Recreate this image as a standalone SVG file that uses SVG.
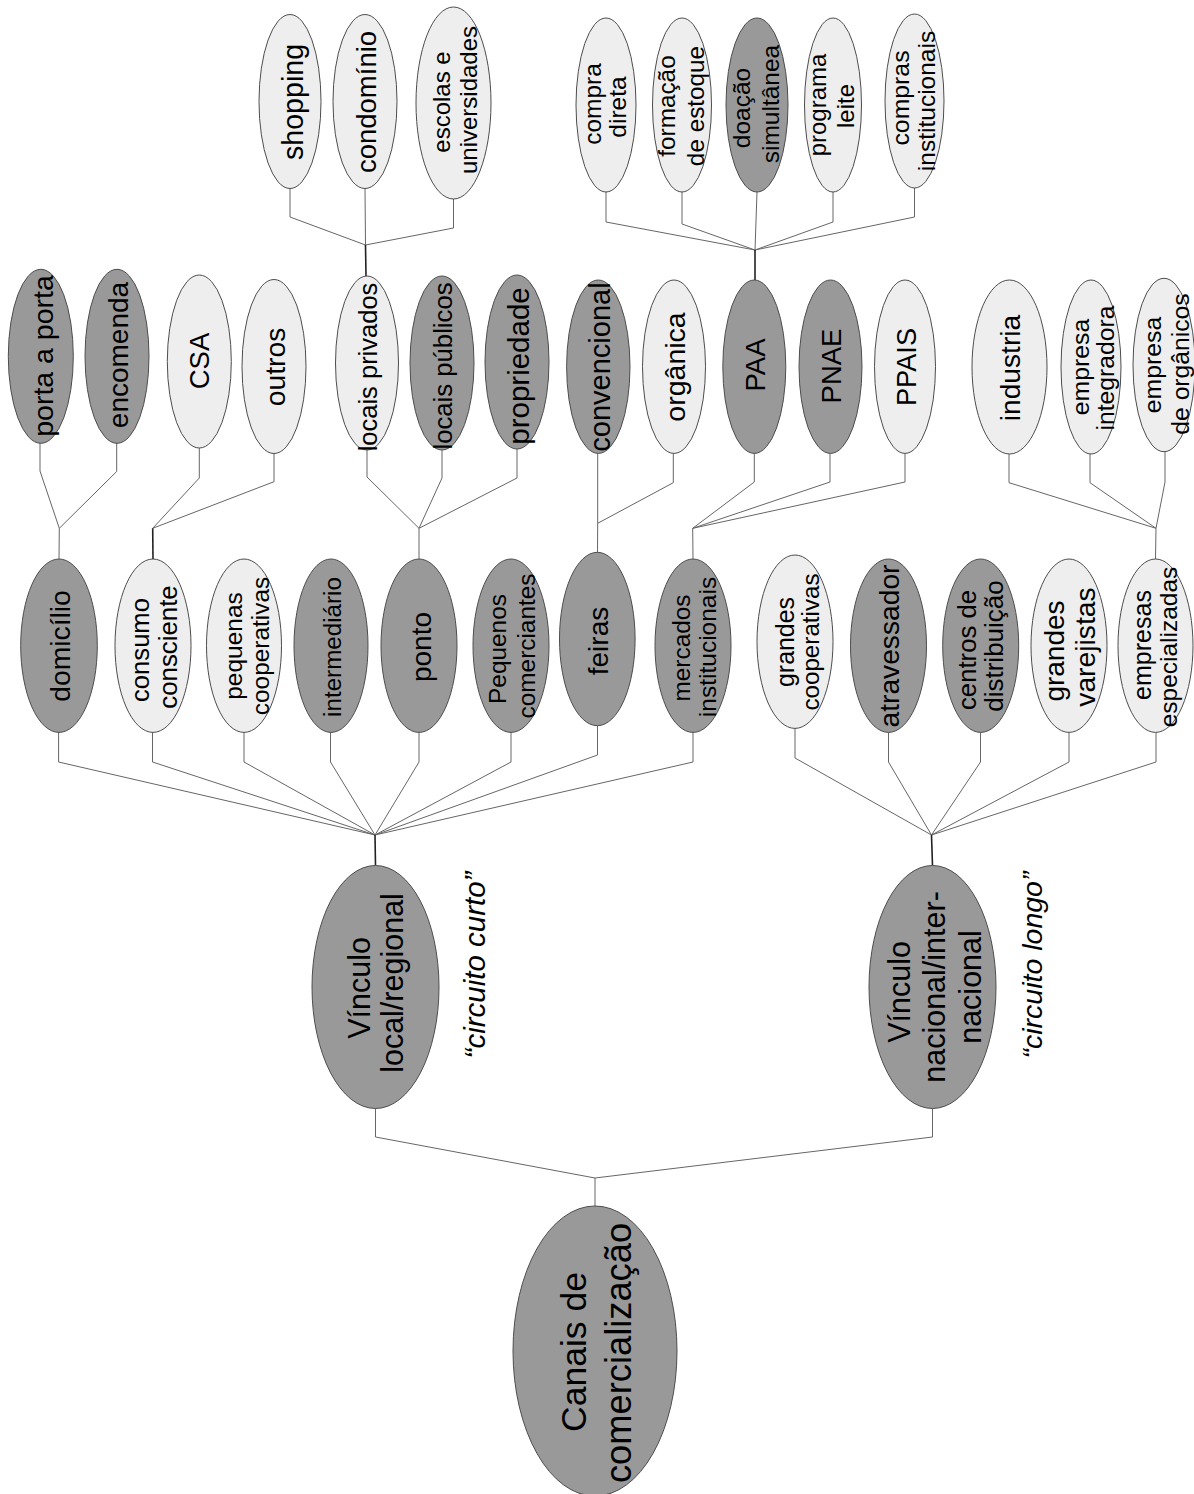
<svg xmlns="http://www.w3.org/2000/svg" width="1194" height="1494" viewBox="0 0 1194 1494">
<style>
.d{fill:#999999;stroke:#4d4d4d;stroke-width:1}
.l{fill:#eeeeee;stroke:#4d4d4d;stroke-width:1}
.t{font-family:"Liberation Sans",Arial,sans-serif;fill:#000;text-anchor:middle;dominant-baseline:central}
.i{font-style:italic}
.c{fill:none;stroke:#666666;stroke-width:1}
.s{fill:none;stroke:#222222;stroke-width:1.6}
</style>
<rect width="1194" height="1494" fill="#ffffff"/>
<g id="connectors">
<polyline class="c" points="290,188 290,217 365.5,245"/>
<polyline class="c" points="365,188 365.5,245"/>
<polyline class="c" points="453.5,199 453.5,228 365.5,245"/>
<polyline class="s" points="365.5,245 366,276"/>
<polyline class="c" points="606,192 606,222 755,250"/>
<polyline class="c" points="682,192 682,224 755,250"/>
<polyline class="c" points="757,192 755,250"/>
<polyline class="c" points="833,192 833,222 755,250"/>
<polyline class="c" points="914.5,188 914.5,217 755,250"/>
<polyline class="s" points="755,250 755,280"/>
<polyline class="c" points="40,443 40,471 59.3,528.3"/>
<polyline class="c" points="116.7,443 116.7,471.5 59.3,528.3"/>
<polyline class="c" points="59.3,528.3 59,559"/>
<polyline class="c" points="199.3,448 199.3,478 152.7,528.3"/>
<polyline class="c" points="274,453 274,481.7 152.7,528.3"/>
<polyline class="s" points="152.7,528.3 153,559"/>
<polyline class="c" points="367,450 367,477 419,528.3"/>
<polyline class="c" points="442,450 442,478 419,528.3"/>
<polyline class="c" points="517,449 517,478 419,528.3"/>
<polyline class="c" points="419,528.3 419,559"/>
<polyline class="c" points="597.7,453.3 597.7,523.3"/>
<polyline class="c" points="673.3,453.3 673.3,482.7 597.7,523.3"/>
<polyline class="c" points="597.7,523.3 597.5,552.3"/>
<polyline class="c" points="754.3,453.3 754.3,482 692.7,528.3"/>
<polyline class="c" points="830,453.3 830,482 692.7,528.3"/>
<polyline class="c" points="905,453.3 905,482 692.7,528.3"/>
<polyline class="c" points="692.7,528.3 693,559"/>
<polyline class="c" points="1009,453.3 1009,482.7 1156,528.3"/>
<polyline class="c" points="1090,453.3 1090,482.7 1156,528.3"/>
<polyline class="c" points="1165,451.7 1165,482 1156,528.3"/>
<polyline class="c" points="1156,528.3 1155.5,559"/>
<polyline class="c" points="58.6,732.3 58.6,762 375,835"/>
<polyline class="c" points="152.5,732.3 152.5,762 375,835"/>
<polyline class="c" points="244,732.3 244,762 375,835"/>
<polyline class="c" points="330.5,732.3 330.5,762 375,835"/>
<polyline class="c" points="419,732.3 419,762 375,835"/>
<polyline class="c" points="511,732.3 511,762 375,835"/>
<polyline class="c" points="597.5,725.7 597.5,755 375,835"/>
<polyline class="c" points="693,732.3 693,762 375,835"/>
<polyline class="s" points="375,835 375.5,865.5"/>
<polyline class="c" points="795,728.4 795,758 931.5,835"/>
<polyline class="c" points="888.5,732.3 888.5,762 931.5,835"/>
<polyline class="c" points="980.5,732.3 980.5,762 931.5,835"/>
<polyline class="c" points="1069,732.3 1069,762 931.5,835"/>
<polyline class="c" points="1156,732.3 1156,762 931.5,835"/>
<polyline class="s" points="931.5,835 932.5,865.5"/>
<polyline class="c" points="375.5,1108.5 375.5,1137 595,1178"/>
<polyline class="c" points="932.5,1108.5 932.5,1137 595,1178"/>
<polyline class="c" points="595,1178 595,1206"/>
</g>
<g id="n-shopping"><ellipse class="l" cx="290" cy="101.5" rx="31" ry="87"/><text class="t" font-size="28.6" transform="translate(293,102) rotate(-90)">shopping</text></g>
<g id="n-condominio"><ellipse class="l" cx="365" cy="101.5" rx="32" ry="87"/><text class="t" font-size="27.5" transform="translate(366,102) rotate(-90)">condomínio</text></g>
<g id="n-escolas"><ellipse class="l" cx="453.5" cy="103" rx="37.5" ry="96"/><text class="t" font-size="24" transform="translate(441,102) rotate(-90)">escolas e</text><text class="t" font-size="24" transform="translate(468,100) rotate(-90)">universidades</text></g>
<g id="n-compra-direta"><ellipse class="l" cx="606" cy="105" rx="30" ry="87"/><text class="t" font-size="24.5" transform="translate(592,104) rotate(-90)">compra</text><text class="t" font-size="24.5" transform="translate(617,107) rotate(-90)">direta</text></g>
<g id="n-formacao"><ellipse class="l" cx="682" cy="105" rx="29.5" ry="87"/><text class="t" font-size="24.3" transform="translate(666,106) rotate(-90)">formação</text><text class="t" font-size="24.3" transform="translate(695,106) rotate(-90)">de estoque</text></g>
<g id="n-doacao"><ellipse class="d" cx="757" cy="105" rx="31" ry="87"/><text class="t" font-size="24.5" transform="translate(741,108) rotate(-90)">doação</text><text class="t" font-size="24.5" transform="translate(770,104) rotate(-90)">simultânea</text></g>
<g id="n-programa-leite"><ellipse class="l" cx="833" cy="105" rx="28.5" ry="87"/><text class="t" font-size="24" transform="translate(817,105) rotate(-90)">programa</text><text class="t" font-size="24" transform="translate(845,106) rotate(-90)">leite</text></g>
<g id="n-compras-inst"><ellipse class="l" cx="914.5" cy="101" rx="29.5" ry="87"/><text class="t" font-size="24.8" transform="translate(900,98) rotate(-90)">compras</text><text class="t" font-size="24.5" transform="translate(926,101) rotate(-90)">institucionais</text></g>
<g id="n-porta"><ellipse class="d" cx="40.8" cy="356.3" rx="32.5" ry="87"/><text class="t" font-size="28.5" transform="translate(43,356) rotate(-90)">porta a porta</text></g>
<g id="n-encomenda"><ellipse class="d" cx="117" cy="356.3" rx="32" ry="87"/><text class="t" font-size="28" transform="translate(118,355) rotate(-90)">encomenda</text></g>
<g id="n-csa"><ellipse class="l" cx="199.3" cy="361.5" rx="32" ry="86.5"/><text class="t" font-size="27.5" transform="translate(199,361) rotate(-90)">CSA</text></g>
<g id="n-outros"><ellipse class="l" cx="274" cy="366.5" rx="32" ry="87"/><text class="t" font-size="28.3" transform="translate(275,367) rotate(-90)">outros</text></g>
<g id="n-locais-privados"><ellipse class="l" cx="367" cy="363" rx="31.5" ry="87"/><text class="t" font-size="25.5" transform="translate(368,367) rotate(-90)">locais privados</text></g>
<g id="n-locais-publicos"><ellipse class="d" cx="442" cy="363" rx="32" ry="87"/><text class="t" font-size="25.7" transform="translate(443,366) rotate(-90)">locais públicos</text></g>
<g id="n-propriedade"><ellipse class="d" cx="517" cy="362" rx="32" ry="87"/><text class="t" font-size="29.5" transform="translate(518,366) rotate(-90)">propriedade</text></g>
<g id="n-convencional"><ellipse class="d" cx="598.3" cy="366.7" rx="31.7" ry="86.7"/><text class="t" font-size="29" transform="translate(600,367) rotate(-90)">convencional</text></g>
<g id="n-organica"><ellipse class="l" cx="674" cy="366.7" rx="31.5" ry="86.7"/><text class="t" font-size="28.5" transform="translate(675,367) rotate(-90)">orgânica</text></g>
<g id="n-paa"><ellipse class="d" cx="754.3" cy="366.7" rx="31.5" ry="86.7"/><text class="t" font-size="27.5" transform="translate(755,365) rotate(-90)">PAA</text></g>
<g id="n-pnae"><ellipse class="d" cx="830.5" cy="366.7" rx="31.5" ry="86.7"/><text class="t" font-size="27.5" transform="translate(831,366) rotate(-90)">PNAE</text></g>
<g id="n-ppais"><ellipse class="l" cx="905" cy="366.7" rx="30.5" ry="86.7"/><text class="t" font-size="27.2" transform="translate(906,367) rotate(-90)">PPAIS</text></g>
<g id="n-industria"><ellipse class="l" cx="1009.5" cy="367" rx="37.5" ry="87"/><text class="t" font-size="28.2" transform="translate(1010,368) rotate(-90)">industria</text></g>
<g id="n-empresa-integradora"><ellipse class="l" cx="1091" cy="367" rx="30" ry="87"/><text class="t" font-size="24.8" transform="translate(1080,367) rotate(-90)">empresa</text><text class="t" font-size="24.7" transform="translate(1105,368) rotate(-90)">integradora</text></g>
<g id="n-empresa-organicos"><ellipse class="l" cx="1164" cy="365" rx="31" ry="86.7"/><text class="t" font-size="24.8" transform="translate(1152,365) rotate(-90)">empresa</text><text class="t" font-size="24.7" transform="translate(1180,364) rotate(-90)">de orgânicos</text></g>
<g id="n-domicilio"><ellipse class="d" cx="59" cy="645.7" rx="38.3" ry="86.7"/><text class="t" font-size="28.3" transform="translate(60,646) rotate(-90)">domicílio</text></g>
<g id="n-consumo"><ellipse class="l" cx="153" cy="645.7" rx="38" ry="86.7"/><text class="t" font-size="25.6" transform="translate(140,650) rotate(-90)">consumo</text><text class="t" font-size="25.8" transform="translate(168,647) rotate(-90)">consciente</text></g>
<g id="n-pequenas-coop"><ellipse class="l" cx="244" cy="645.7" rx="37.5" ry="86.7"/><text class="t" font-size="24.5" transform="translate(233,646) rotate(-90)">pequenas</text><text class="t" font-size="24.4" transform="translate(260,646) rotate(-90)">cooperativas</text></g>
<g id="n-intermediario"><ellipse class="d" cx="331" cy="645.7" rx="37" ry="86.7"/><text class="t" font-size="24.2" transform="translate(332,647) rotate(-90)">intermediário</text></g>
<g id="n-ponto"><ellipse class="d" cx="419" cy="645.7" rx="38" ry="86.7"/><text class="t" font-size="28" transform="translate(421,647) rotate(-90)">ponto</text></g>
<g id="n-pequenos-com"><ellipse class="d" cx="511" cy="645.7" rx="38" ry="86.7"/><text class="t" font-size="24.4" transform="translate(497,649) rotate(-90)">Pequenos</text><text class="t" font-size="24.4" transform="translate(526,646) rotate(-90)">comerciantes</text></g>
<g id="n-feiras"><ellipse class="d" cx="597.3" cy="639" rx="37.8" ry="86.7"/><text class="t" font-size="28" transform="translate(598,641) rotate(-90)">feiras</text></g>
<g id="n-mercados"><ellipse class="d" cx="693" cy="645.7" rx="38" ry="86.7"/><text class="t" font-size="24.4" transform="translate(681,648) rotate(-90)">mercados</text><text class="t" font-size="24.5" transform="translate(707,647) rotate(-90)">institucionais</text></g>
<g id="n-grandes-coop"><ellipse class="l" cx="795" cy="641.7" rx="38" ry="86.7"/><text class="t" font-size="24.9" transform="translate(785,642) rotate(-90)">grandes</text><text class="t" font-size="24.2" transform="translate(810,642) rotate(-90)">cooperativas</text></g>
<g id="n-atravessador"><ellipse class="d" cx="888.5" cy="645.7" rx="38" ry="86.7"/><text class="t" font-size="28.2" transform="translate(889,646) rotate(-90)">atravessador</text></g>
<g id="n-centros"><ellipse class="d" cx="980.7" cy="645.7" rx="38" ry="86.7"/><text class="t" font-size="25.7" transform="translate(967,650) rotate(-90)">centros de</text><text class="t" font-size="26" transform="translate(994,646) rotate(-90)">distribuição</text></g>
<g id="n-grandes-varejistas"><ellipse class="l" cx="1069" cy="645.7" rx="38" ry="86.7"/><text class="t" font-size="28" transform="translate(1054,651) rotate(-90)">grandes</text><text class="t" font-size="28.3" transform="translate(1085,647) rotate(-90)">varejistas</text></g>
<g id="n-empresas-esp"><ellipse class="l" cx="1155.5" cy="645.7" rx="37.5" ry="86.7"/><text class="t" font-size="25" transform="translate(1142,645) rotate(-90)">empresas</text><text class="t" font-size="24.5" transform="translate(1168,647) rotate(-90)">especializadas</text></g>
<g id="n-vinculo-local"><ellipse class="d" cx="375.5" cy="987" rx="63.5" ry="121.5"/><text class="t" font-size="30.5" transform="translate(359,988) rotate(-90)">Vínculo</text><text class="t" font-size="30.5" transform="translate(392,983) rotate(-90)">local/regional</text></g>
<g id="lbl-curto"><text class="t i" font-size="29.5" transform="translate(474,965) rotate(-90)">“circuito curto”</text></g>
<g id="n-vinculo-nacional"><ellipse class="d" cx="932.5" cy="987" rx="63.5" ry="121.5"/><text class="t" font-size="30.5" transform="translate(899,992) rotate(-90)">Vínculo</text><text class="t" font-size="30.5" transform="translate(934,987) rotate(-90)">nacional/inter-</text><text class="t" font-size="30.5" transform="translate(970,987) rotate(-90)">nacional</text></g>
<g id="lbl-longo"><text class="t i" font-size="28.5" transform="translate(1032,965) rotate(-90)">“circuito longo”</text></g>
<g id="n-canais"><ellipse class="d" cx="595" cy="1351" rx="82" ry="145"/><text class="t" font-size="35.5" transform="translate(574,1352) rotate(-90)">Canais de</text><text class="t" font-size="36.3" transform="translate(618,1353) rotate(-90)">comercialização</text></g>
</svg>
